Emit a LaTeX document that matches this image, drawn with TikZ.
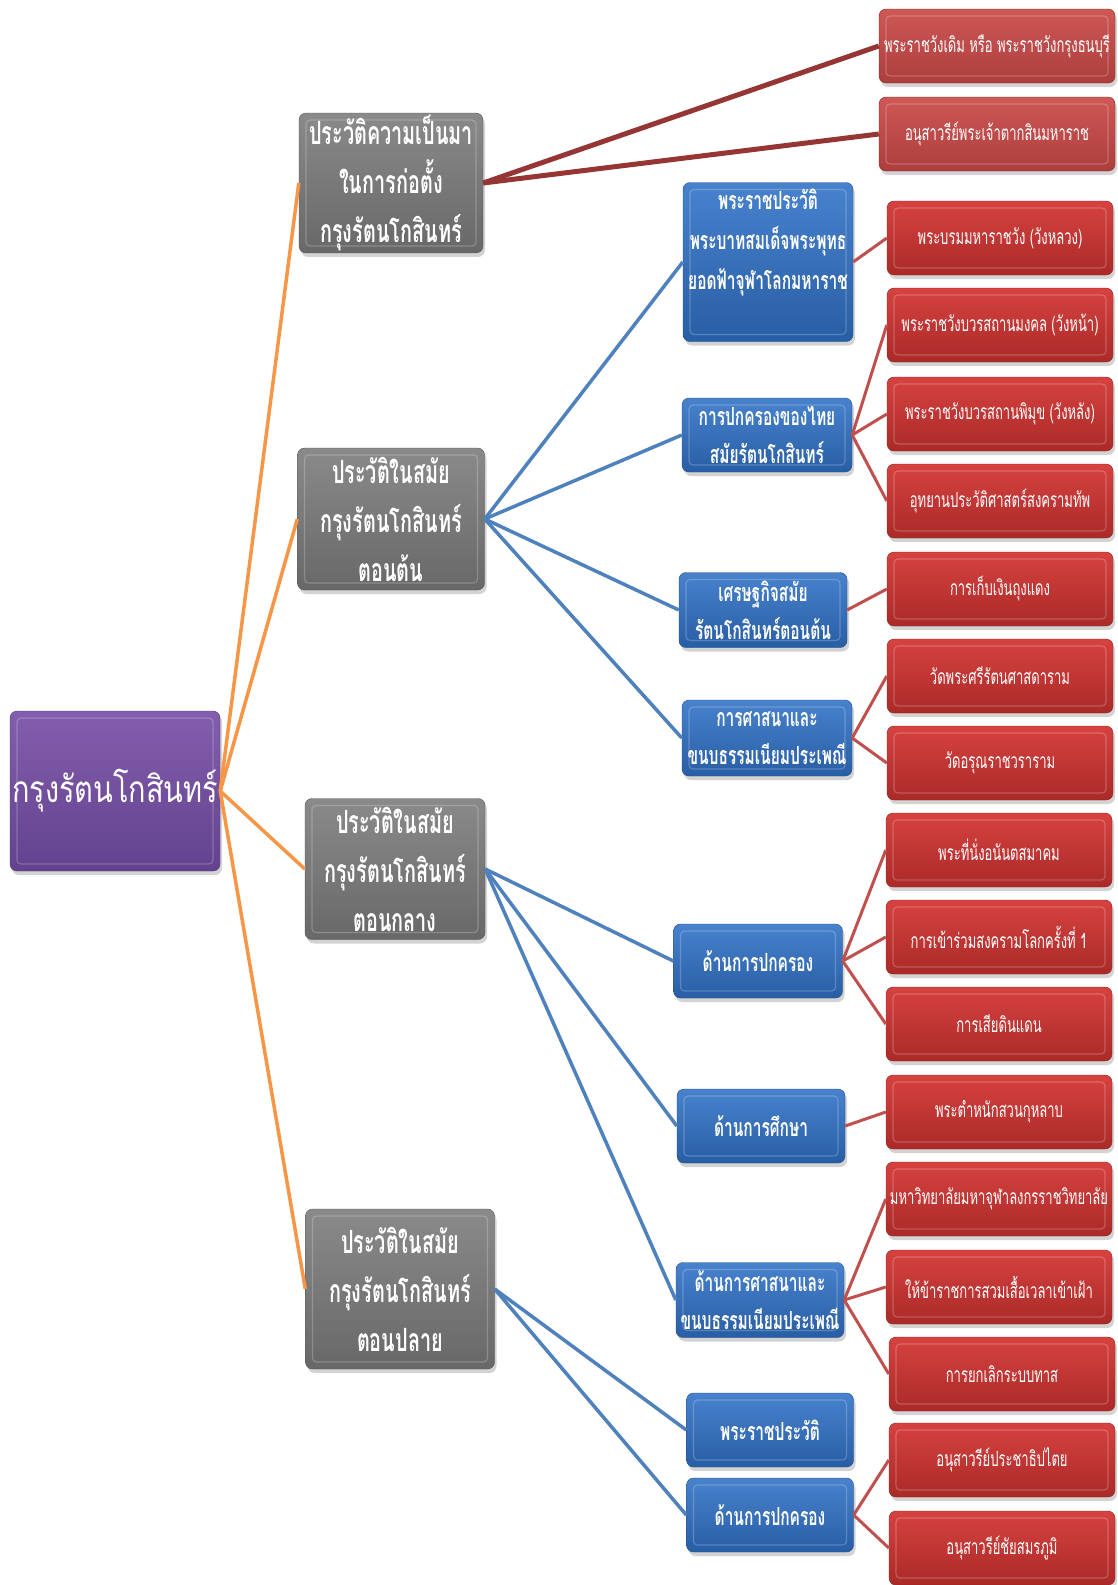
\documentclass[tikz,border=0pt]{standalone}
\usepackage{fontspec}
\newfontfamily\thaifont[Script=Thai,FakeStretch=0.78]{Loma}
\newfontfamily\thainarrow[Script=Thai,FakeStretch=0.62]{Loma}
\usetikzlibrary{shadows,positioning}
\definecolor{purpletop}{RGB}{132,94,174}
\definecolor{purplebot}{RGB}{98,66,142}
\definecolor{greytop}{RGB}{138,138,138}
\definecolor{greybot}{RGB}{104,104,104}
\definecolor{bluetop}{RGB}{72,130,205}
\definecolor{bluebot}{RGB}{40,94,165}
\definecolor{redtop}{RGB}{214,66,64}
\definecolor{redbot}{RGB}{170,42,40}
\definecolor{paletop}{RGB}{206,88,86}
\definecolor{palebot}{RGB}{172,62,60}
\definecolor{orangeline}{RGB}{247,150,70}
\definecolor{darkredline}{RGB}{150,54,52}
\definecolor{blueline}{RGB}{79,129,189}
\definecolor{redline}{RGB}{192,80,77}

\begin{document}
\begin{tikzpicture}[x=1pt,y=-1pt,
  box/.style = {rounded corners=7pt, text=white, align=center, inner sep=2pt,
    drop shadow={opacity=0.35, shadow xshift=2pt, shadow yshift=-4pt},
    path picture={\draw[white,opacity=0.22,line width=1.2pt,rounded corners=4pt]
      ([shift={(7pt,-7pt)}]path picture bounding box.north west) rectangle
      ([shift={(-7pt,7pt)}]path picture bounding box.south east);}},
  rootbox/.style = {box, top color=purpletop, bottom color=purplebot, draw=purplebot!80!black,
    minimum width=210pt, minimum height=160pt, inner sep=0pt, font=\thaifont\fontsize{37}{44}\selectfont},
  greybox/.style = {box, top color=greytop, bottom color=greybot, draw=greybot!80!black,
    minimum width=184pt, minimum height=140pt, font=\thainarrow\bfseries\fontsize{32}{49}\selectfont},
  bluebox/.style = {box, top color=bluetop, bottom color=bluebot, draw=bluebot!80!black,
    minimum width=169pt, minimum height=74pt, font=\thainarrow\bfseries\fontsize{25}{38}\selectfont},
  boxtext/.style = {text=white, align=center, inner sep=0pt, font=\thainarrow\bfseries\fontsize{25}{40}\selectfont},
  redbox/.style = {box, top color=redtop, bottom color=redbot, draw=redbot!80!black,
    minimum width=226pt, minimum height=74pt, font=\thainarrow\fontsize{21}{26}\selectfont},
  palebox/.style = {redbox, top color=paletop, bottom color=palebot, minimum width=236pt},
  rootline/.style = {draw=orangeline, line width=3.5pt},
  thickline/.style = {draw=darkredline, line width=5pt},
  midline/.style = {draw=blueline, line width=3.5pt},
  leafline/.style = {draw=redline, line width=3pt}]
\useasboundingbox (0,0) rectangle (1117,1585);

% root
\node (root) at (115,791)[rootbox] {กรุงรัตนโกสินทร์};

% second level
\node (g1) at (391,183)[greybox, minimum height=130pt] {ประวัติความเป็นมา\\ในการก่อตั้ง\\กรุงรัตนโกสินทร์};
\node (g2) at (391,519)[greybox, minimum width=187pt, minimum height=142pt] {ประวัติในสมัย\\กรุงรัตนโกสินทร์\\ตอนต้น};
\node (g3) at (395,869)[greybox, minimum width=180pt, minimum height=141pt] {ประวัติในสมัย\\กรุงรัตนโกสินทร์\\ตอนกลาง};
\node (g4) at (400,1289)[greybox, minimum width=189pt, minimum height=160pt] {ประวัติในสมัย\\กรุงรัตนโกสินทร์\\ตอนปลาย};

% third level
\node (b1) at (768,262)[bluebox, minimum width=170pt, minimum height=159pt] {};
\node (b1text) at (768,243)[boxtext] {พระราชประวัติ\\พระบาทสมเด็จพระพุทธ\\ยอดฟ้าจุฬาโลกมหาราช};
\node (b2) at (767,435)[bluebox, minimum width=170pt] {การปกครองของไทย\\สมัยรัตนโกสินทร์};
\node (b3) at (763,610)[bluebox, minimum width=168pt, minimum height=75pt] {เศรษฐกิจสมัย\\รัตนโกสินทร์ตอนต้น};
\node (b4) at (767,738)[bluebox, minimum width=170pt, minimum height=76pt] {การศาสนาและ\\ขนบธรรมเนียมประเพณี};
\node (b5) at (758,961)[bluebox] {ด้านการปกครอง};
\node (b6) at (761,1126)[bluebox, minimum width=168pt] {ด้านการศึกษา};
\node (b7) at (760,1300)[bluebox, minimum width=168pt, minimum height=75pt] {ด้านการศาสนาและ\\ขนบธรรมเนียมประเพณี};
\node (b8) at (770,1430)[bluebox, minimum width=167pt] {พระราชประวัติ};
\node (b9) at (770,1515)[bluebox, minimum width=167pt] {ด้านการปกครอง};

% leaves
\node (r1) at (997,46)[palebox] {พระราชวังเดิม หรือ พระราชวังกรุงธนบุรี};
\node (r2) at (997,134)[palebox] {อนุสาวรีย์พระเจ้าตากสินมหาราช};
\node (r3) at (1000,238)[redbox] {พระบรมมหาราชวัง (วังหลวง)};
\node (r4) at (1000,325)[redbox] {พระราชวังบวรสถานมงคล (วังหน้า)};
\node (r5) at (1000,414)[redbox] {พระราชวังบวรสถานพิมุข (วังหลัง)};
\node (r6) at (1000,501)[redbox] {อุทยานประวัติศาสตร์สงครามทัพ};
\node (r7) at (1000,589)[redbox] {การเก็บเงินถุงแดง};
\node (r8) at (1000,676)[redbox] {วัดพระศรีรัตนศาสดาราม};
\node (r9) at (1000,763)[redbox] {วัดอรุณราชวราราม};
\node (r10) at (999,850)[redbox] {พระที่นั่งอนันตสมาคม};
\node (r11) at (999,937)[redbox] {การเข้าร่วมสงครามโลกครั้งที่ 1};
\node (r12) at (999,1024)[redbox] {การเสียดินแดน};
\node (r13) at (999,1112)[redbox] {พระตำหนักสวนกุหลาบ};
\node (r14) at (999,1199)[redbox] {มหาวิทยาลัยมหาจุฬาลงกรราชวิทยาลัย};
\node (r15) at (999,1287)[redbox] {ให้ข้าราชการสวมเสื้อเวลาเข้าเฝ้า};
\node (r16) at (1002,1374)[redbox] {การยกเลิกระบบทาส};
\node (r17) at (1002,1460)[redbox] {อนุสาวรีย์ประชาธิปไตย};
\node (r18) at (1002,1548)[redbox] {อนุสาวรีย์ชัยสมรภูมิ};

% connectors
\draw[rootline] (root.east) -- (g1.west);
\draw[rootline] (root.east) -- (g2.west);
\draw[rootline] (root.east) -- (g3.west);
\draw[rootline] (root.east) -- (g4.west);
\draw[thickline] (g1.east) -- (r1.west);
\draw[thickline] (g1.east) -- (r2.west);
\draw[midline] (g2.east) -- (b1.west);
\draw[midline] (g2.east) -- (b2.west);
\draw[midline] (g2.east) -- (b3.west);
\draw[midline] (g2.east) -- (b4.west);
\draw[midline] (g3.east) -- (b5.west);
\draw[midline] (g3.east) -- (b6.west);
\draw[midline] (g3.east) -- (b7.west);
\draw[midline] (g4.east) -- (b8.west);
\draw[midline] (g4.east) -- (b9.west);
\draw[leafline] (b1.east) -- (r3.west);
\draw[leafline] (b2.east) -- (r4.west);
\draw[leafline] (b2.east) -- (r5.west);
\draw[leafline] (b2.east) -- (r6.west);
\draw[leafline] (b3.east) -- (r7.west);
\draw[leafline] (b4.east) -- (r8.west);
\draw[leafline] (b4.east) -- (r9.west);
\draw[leafline] (b5.east) -- (r10.west);
\draw[leafline] (b5.east) -- (r11.west);
\draw[leafline] (b5.east) -- (r12.west);
\draw[leafline] (b6.east) -- (r13.west);
\draw[leafline] (b7.east) -- (r14.west);
\draw[leafline] (b7.east) -- (r15.west);
\draw[leafline] (b7.east) -- (r16.west);
\draw[leafline] (b9.east) -- (r17.west);
\draw[leafline] (b9.east) -- (r18.west);
\end{tikzpicture}
\end{document}
